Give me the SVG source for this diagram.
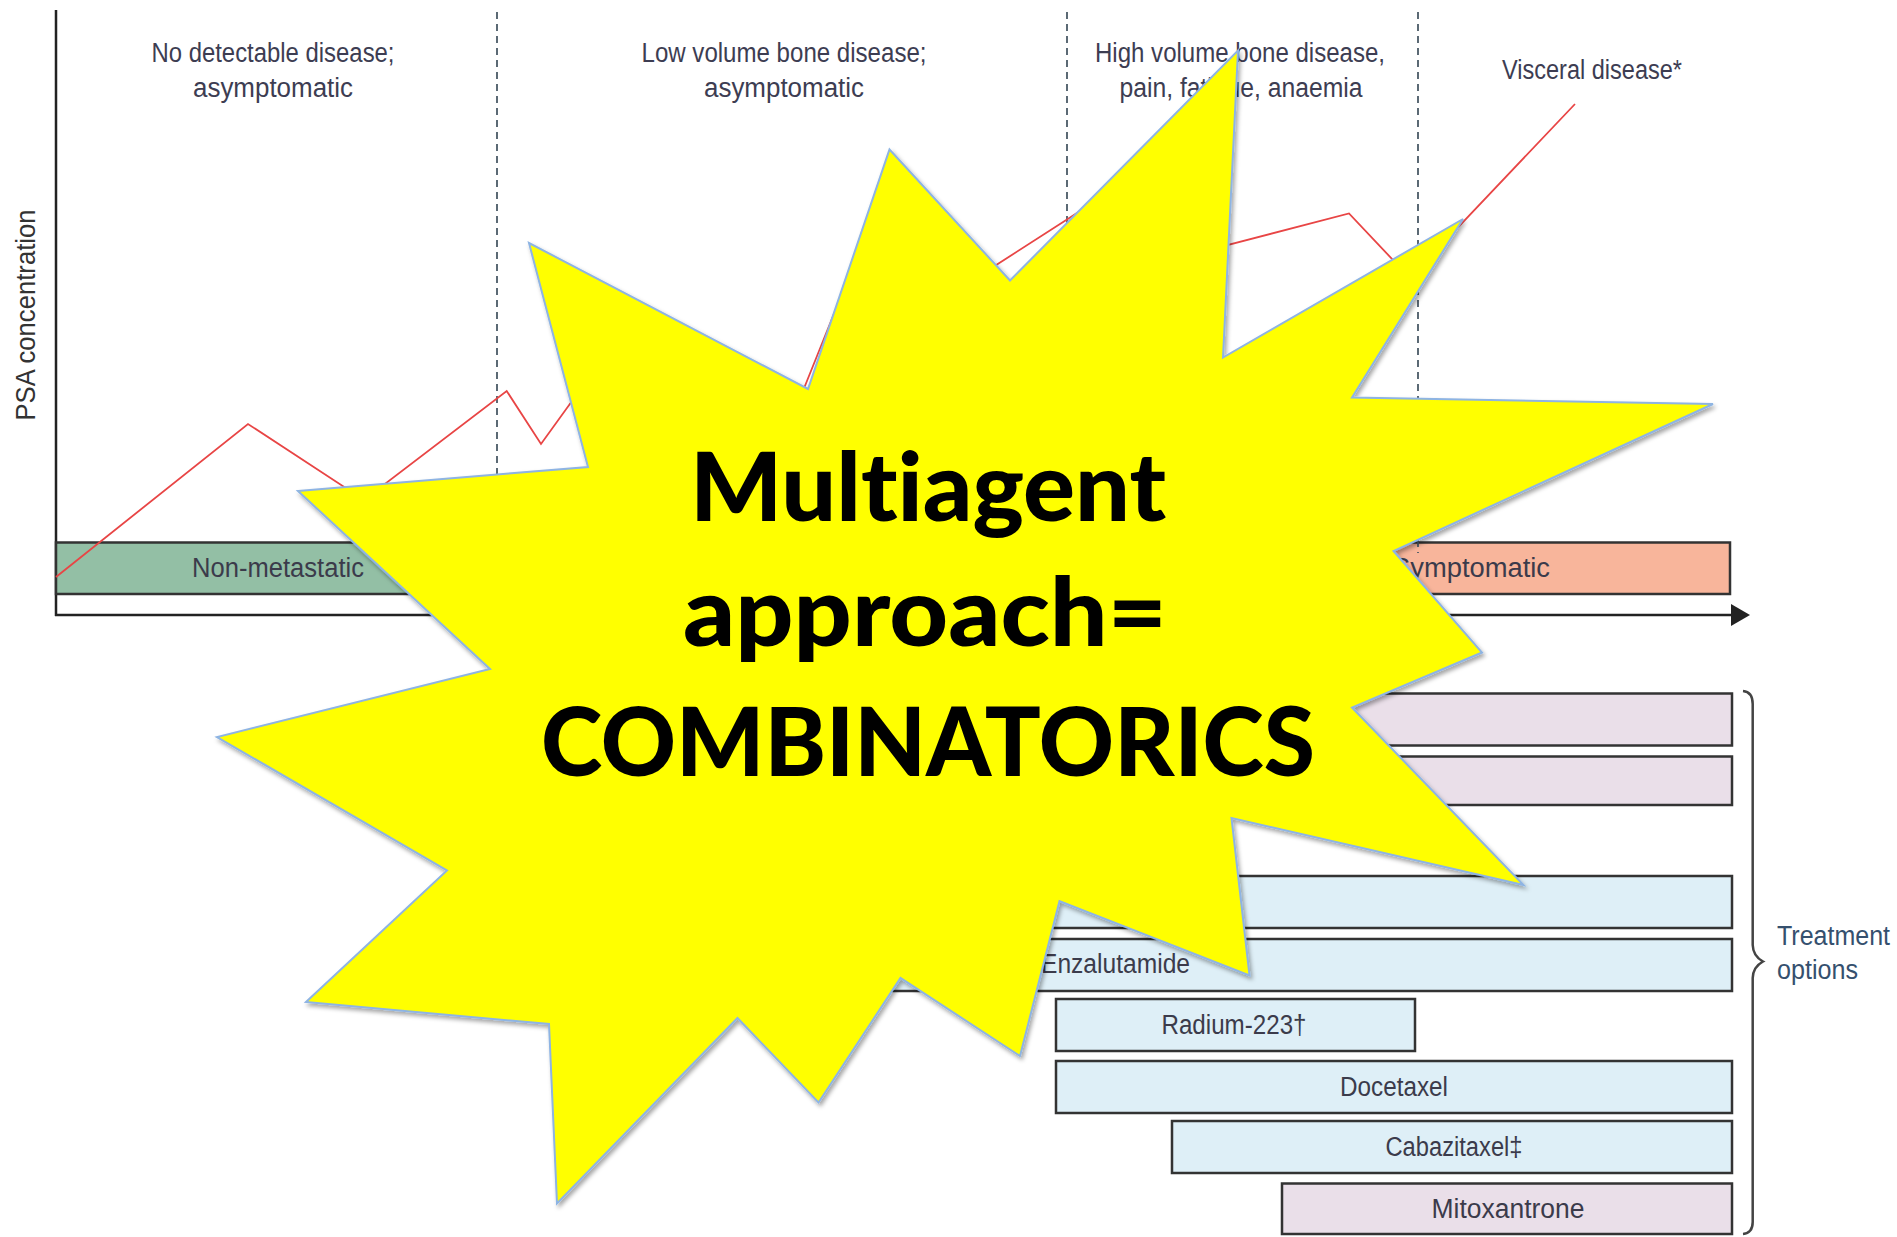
<svg xmlns="http://www.w3.org/2000/svg" width="1897" height="1237" viewBox="0 0 1897 1237">
<defs>
<style>
.lbl{font-family:'Liberation Sans',Arial,sans-serif;font-size:27px;fill:#3b3b4b}
.hdr{font-family:'Liberation Sans',Arial,sans-serif;font-size:27px;fill:#3d3d52;text-anchor:middle}
.bar{stroke:#333;stroke-width:2.5}
.pink{fill:#EADFE9}
.blue{fill:#DEEFF7}
.dash{stroke:#4A5A66;stroke-width:1.8;stroke-dasharray:7 5;fill:none}
.axis{stroke:#222;stroke-width:2.5;fill:none}
.big{font-family:Lato,'DejaVu Sans',sans-serif;font-weight:900;font-size:96px;fill:#000;text-anchor:middle;font-variant-ligatures:none;font-feature-settings:"liga" 0,"clig" 0}
</style>
<filter id="shadow" x="-10%" y="-10%" width="120%" height="120%">
<feDropShadow dx="2" dy="3" stdDeviation="2" flood-color="#000" flood-opacity="0.35"/>
</filter>
</defs>
<rect width="1897" height="1237" fill="#fff"/>

<g id="axes">
<line class="axis" x1="56" y1="10" x2="56" y2="616"/>
<line class="axis" x1="55" y1="615" x2="1733" y2="615"/>
<polygon points="1731,604 1750,615 1731,626" fill="#222"/>
<text class="lbl" transform="translate(35,315) rotate(-90)" text-anchor="middle" font-size="25" textLength="211" lengthAdjust="spacingAndGlyphs" style="fill:#333">PSA concentration</text>
</g>

<g id="headers">
<text class="hdr" x="273" y="62" textLength="243" lengthAdjust="spacingAndGlyphs">No detectable disease;</text>
<text class="hdr" x="273" y="97" textLength="160" lengthAdjust="spacingAndGlyphs">asymptomatic</text>
<text class="hdr" x="784" y="62" textLength="285" lengthAdjust="spacingAndGlyphs">Low volume bone disease;</text>
<text class="hdr" x="784" y="97" textLength="160" lengthAdjust="spacingAndGlyphs">asymptomatic</text>
<text class="hdr" x="1240" y="62" textLength="290" lengthAdjust="spacingAndGlyphs">High volume bone disease,</text>
<text class="hdr" x="1241" y="97" textLength="243" lengthAdjust="spacingAndGlyphs">pain, fatigue, anaemia</text>
<text class="hdr" x="1592" y="79" textLength="180" lengthAdjust="spacingAndGlyphs">Visceral disease*</text>
</g>

<g id="stage-bars">
<g id="bar-nonmetastatic">
<rect class="bar" x="56" y="542.5" width="441" height="51.5" fill="#93BFA5"/>
<text class="lbl" x="278" y="577" text-anchor="middle" textLength="172" lengthAdjust="spacingAndGlyphs">Non-metastatic</text>
</g>
<g id="bar-symptomatic">
<rect class="bar" x="1213" y="542.5" width="517" height="51.5" fill="#F8B59B"/>
<text class="lbl" x="1392" y="577" textLength="158" lengthAdjust="spacingAndGlyphs">Symptomatic</text>
</g>
</g>

<g id="connectors">
<line class="dash" x1="497" y1="12" x2="497" y2="553"/>
<line class="dash" x1="1067" y1="12" x2="1067" y2="553"/>
<line class="dash" x1="1418" y1="12" x2="1418" y2="553"/>
<polyline fill="none" stroke="#E84545" stroke-width="1.8" stroke-linejoin="miter" points="56,577 248,424 364,500 506.7,391 541,444 585,383 780,448 850,274 920,314 1067,219.5 1120,185 1180,257.4 1349,213.5 1410,278 1575,104"/>
</g>

<g id="treatments">
<g id="bar-a"><rect class="bar pink" x="503" y="693.5" width="1229" height="52"/></g>
<g id="bar-b"><rect class="bar pink" x="503" y="756.5" width="1229" height="48.5"/></g>
<g id="bar-c"><rect class="bar blue" x="503" y="876" width="1229" height="52"/></g>
<g id="bar-enzalutamide"><rect class="bar blue" x="503" y="939" width="1229" height="52"/>
<text class="lbl" x="1041" y="973" textLength="149" lengthAdjust="spacingAndGlyphs">Enzalutamide</text></g>
<g id="bar-radium"><rect class="bar blue" x="1056" y="999" width="359" height="52"/>
<text class="lbl" x="1234" y="1034" text-anchor="middle" textLength="145" lengthAdjust="spacingAndGlyphs">Radium-223†</text></g>
<g id="bar-docetaxel"><rect class="bar blue" x="1056" y="1061" width="676" height="52"/>
<text class="lbl" x="1394" y="1096" text-anchor="middle" textLength="108" lengthAdjust="spacingAndGlyphs">Docetaxel</text></g>
<g id="bar-cabazitaxel"><rect class="bar blue" x="1172" y="1121" width="560" height="52"/>
<text class="lbl" x="1454" y="1156" text-anchor="middle" textLength="137" lengthAdjust="spacingAndGlyphs">Cabazitaxel‡</text></g>
<g id="bar-mitoxantrone"><rect class="bar pink" x="1282" y="1183.5" width="450" height="50.5"/>
<text class="lbl" x="1508" y="1218" text-anchor="middle" textLength="153" lengthAdjust="spacingAndGlyphs">Mitoxantrone</text></g>
</g>

<g id="treatment-brace">
<path d="M1743,691 Q1752.7,692 1752.7,704 L1752.7,945 Q1753,956 1763,961.5 Q1753,967 1752.7,978 L1752.7,1222 Q1752.7,1233 1743,1234" fill="none" stroke="#444" stroke-width="2.5"/>
<text class="lbl" x="1777" y="945" textLength="113" lengthAdjust="spacingAndGlyphs" style="fill:#35506E">Treatment</text>
<text class="lbl" x="1777" y="979" textLength="81" lengthAdjust="spacingAndGlyphs" style="fill:#35506E">options</text>
</g>

<g id="starburst">
<polygon filter="url(#shadow)" fill="#FFFF00" stroke="#8EB4E3" stroke-width="2" stroke-linejoin="miter" points="298,491 588,467 529,243 808,389 889.5,149.5 1010,280.5 1238,50.5 1223,357.5 1463,219 1352,397.5 1713,404 1393.5,551 1482,652.5 1352,707.5 1523.5,885 1231.5,818 1249.5,975.5 1059.5,901 1020,1056 900.5,978 818.5,1102.5 737.5,1018 557,1203.5 549,1024 306,1002 447,870.5 217,737 490,669"/>
<text class="big" x="928" y="521" textLength="476" lengthAdjust="spacingAndGlyphs">Multiagent</text>
<text class="big" x="925" y="646" textLength="484" lengthAdjust="spacingAndGlyphs">approach=</text>
<text class="big" x="928" y="776" textLength="774" lengthAdjust="spacingAndGlyphs">COMBINATORICS</text>
</g>
</svg>
